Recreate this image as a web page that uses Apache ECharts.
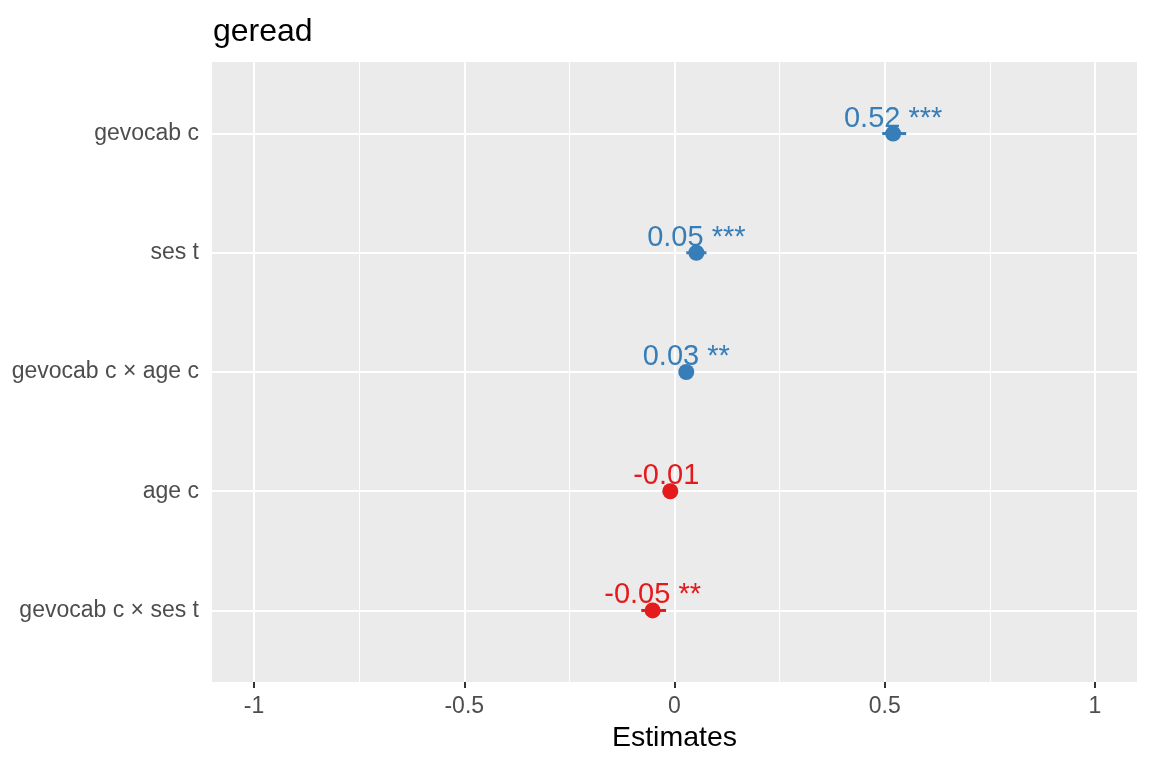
<!DOCTYPE html>
<html>
<head>
<meta charset="utf-8">
<script src="https://cdn.jsdelivr.net/npm/echarts@6/dist/echarts.min.js"></script>
<style>html,body{margin:0;padding:0;background:#fff}#c{width:1152px;height:768px}</style>
</head>
<body>
<div id="c"></div>
<script>
const categories = ['gevocab c', 'ses t', 'gevocab c \u00d7 age c', 'age c', 'gevocab c \u00d7 ses t'];
const estimates = [0.52, 0.052, 0.028, -0.01, -0.052];
const ciLow = [0.494, 0.028, 0.016, -0.021, -0.079];
const ciHigh = [0.551, 0.076, 0.040, 0.001, -0.020];
const valueLabels = ['0.52', '0.05', '0.03', '-0.01', '-0.05'];
const stars = ['***', '***', '**', '', '**'];
const xTicks = [-1, -0.5, 0, 0.5, 1];
const xMinor = [-0.75, -0.25, 0.25, 0.75];
const xTickLabels = ['-1', '-0.5', '0', '0.5', '1'];

const BLUE = '#377EB8', RED = '#E41A1C';
const FONT = '"Liberation Sans", Arial, sans-serif';
const colorOf = v => v >= 0 ? BLUE : RED;
const yPos = categories.map((c, i) => i + 1);

const gridLines = [];
xMinor.forEach(v => gridLines.push({xAxis: v, lineStyle: {width: 1}}));
xTicks.forEach(v => gridLines.push({xAxis: v, lineStyle: {width: 2}}));
yPos.forEach(v => gridLines.push({yAxis: v, lineStyle: {width: 2}}));

const chart = echarts.init(document.getElementById('c'), null, {renderer: 'canvas'});
chart.setOption({
  animation: false,
  title: {
    text: 'geread', left: 208, top: 11,
    textStyle: {fontFamily: FONT, fontSize: 32, fontWeight: 'normal', color: '#000'}
  },
  grid: {left: 212, right: 15, top: 62, bottom: 86, show: true, backgroundColor: '#EBEBEB', borderWidth: 0},
  xAxis: {
    type: 'value', min: -1.1, max: 1.1,
    name: 'Estimates', nameLocation: 'middle', nameGap: 42,
    nameTextStyle: {fontFamily: FONT, fontSize: 28.5, color: '#000'},
    axisLine: {show: false},
    axisTick: {show: true, customValues: xTicks, length: 6, lineStyle: {color: '#333', width: 2}},
    axisLabel: {customValues: xTicks, formatter: v => xTickLabels[xTicks.indexOf(v)] ?? '', margin: 13,
      fontFamily: FONT, fontSize: 23, color: '#4D4D4D'},
    splitLine: {show: false}
  },
  yAxis: {
    type: 'value', min: 0.4, max: 5.6, inverse: true,
    axisLine: {show: false},
    axisTick: {show: true, customValues: yPos, length: 6, lineStyle: {color: '#333', width: 2}},
    axisLabel: {customValues: yPos, formatter: v => categories[Math.round(v) - 1] ?? '', margin: 13,
      fontFamily: FONT, fontSize: 23, color: '#4D4D4D'},
    splitLine: {show: false}
  },
  series: [
    {
      type: 'scatter', data: [], z: 1, silent: true,
      markLine: {z: 1, silent: true, symbol: 'none', label: {show: false},
        lineStyle: {color: '#FFFFFF', type: 'solid', opacity: 1}, data: gridLines, animation: false}
    },
    {
      type: 'custom', z: 10, silent: true,
      data: estimates.map((e, i) => [ciLow[i], ciHigh[i], yPos[i]]),
      renderItem: (params, api) => {
        const i = params.dataIndex;
        const p1 = api.coord([api.value(0), api.value(2)]);
        const p2 = api.coord([api.value(1), api.value(2)]);
        return {type: 'rect', shape: {x: p1[0], y: p1[1] - 1.5, width: p2[0] - p1[0], height: 3},
          style: {fill: colorOf(estimates[i]), stroke: null}};
      }
    },
    {
      type: 'scatter', z: 11, symbol: 'circle', symbolSize: 16, silent: true,
      itemStyle: {opacity: 1},
      data: estimates.map((e, i) => ({
        value: [e, yPos[i]],
        itemStyle: {color: colorOf(e), opacity: 1},
        label: {color: colorOf(e)}
      })),
      label: {
        show: true, position: 'inside', offset: [0, -15],
        fontFamily: FONT, fontSize: 29,
        formatter: p => valueLabels[p.dataIndex] + ' ' + stars[p.dataIndex]
      }
    }
  ]
});
</script>
</body>
</html>
